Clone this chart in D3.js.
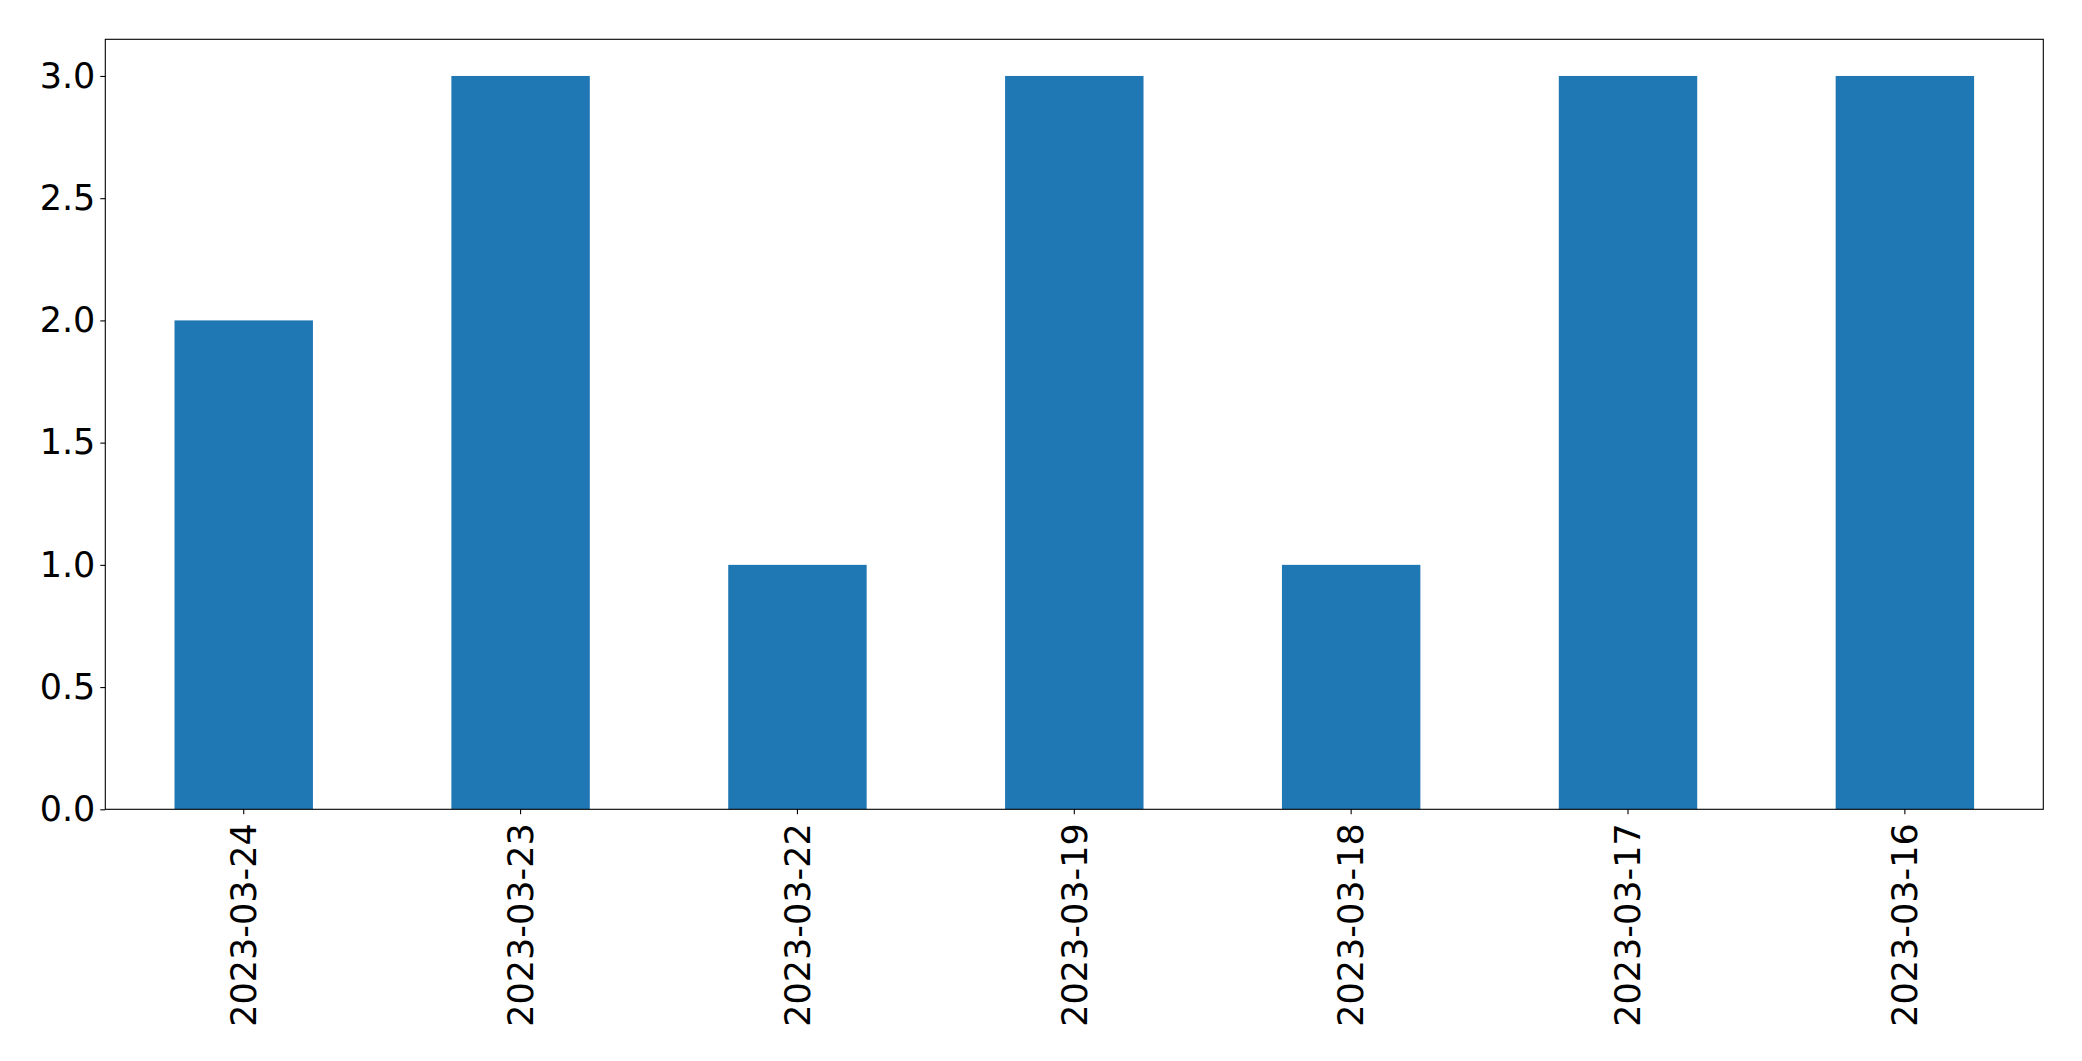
<!DOCTYPE html>
<html>
<head>
<meta charset="utf-8">
<script src="https://cdn.jsdelivr.net/npm/d3@7"></script>
<style>
  html, body { margin: 0; padding: 0; background: #fff; }
  svg { display: block; }
  text { font-family: "DejaVu Sans", sans-serif; }
</style>
</head>
<body>
<script>
const categories = ["2023-03-24", "2023-03-23", "2023-03-22", "2023-03-19", "2023-03-18", "2023-03-17", "2023-03-16"];
const values = [2, 3, 1, 3, 1, 3, 3];
const yTicks = [0, 0.5, 1.0, 1.5, 2.0, 2.5, 3.0];

const W = 2082, H = 1061;
const margin = { left: 105.3, right: W - 2043.3, top: 39.3, bottom: H - 809.3 };
const iw = W - margin.left - margin.right;
const ih = H - margin.top - margin.bottom;

const svg = d3.select("body").append("svg").attr("width", W).attr("height", H);
const g = svg.append("g").attr("transform", `translate(${margin.left},${margin.top})`);

const x = d3.scaleBand().domain(categories).range([0, iw]).paddingInner(0.5).paddingOuter(0.25);
const y = d3.scaleLinear().domain([0, d3.max(values) * 1.05]).range([ih, 0]);

g.selectAll("rect.bar").data(values).enter().append("rect")
  .attr("class", "bar")
  .attr("x", (d, i) => x(categories[i]))
  .attr("width", x.bandwidth())
  .attr("y", d => y(d))
  .attr("height", d => ih - y(d))
  .attr("fill", "#1f77b4");

const fs = 35;
const yAxis = g.append("g")
  .call(d3.axisLeft(y).tickValues(yTicks).tickFormat(d3.format(".1f")).tickSize(5).tickPadding(5));
const xAxis = g.append("g").attr("transform", `translate(0,${ih})`)
  .call(d3.axisBottom(x).tickSize(5).tickPadding(5));

[yAxis, xAxis].forEach(a => {
  a.select(".domain").remove();
  a.selectAll("line").attr("stroke", "#000").attr("stroke-width", 1.1);
  a.selectAll("text").attr("font-size", fs).attr("fill", "#000").attr("font-family", "DejaVu Sans, sans-serif");
});

xAxis.selectAll("text")
  .attr("transform", "rotate(-90)")
  .attr("text-anchor", "end")
  .attr("x", -14)
  .attr("y", 0)
  .attr("dy", "0.35em");

g.append("rect").attr("x", 0).attr("y", 0).attr("width", iw).attr("height", ih)
  .attr("fill", "none").attr("stroke", "#000").attr("stroke-width", 1.1);
</script>
</body>
</html>
